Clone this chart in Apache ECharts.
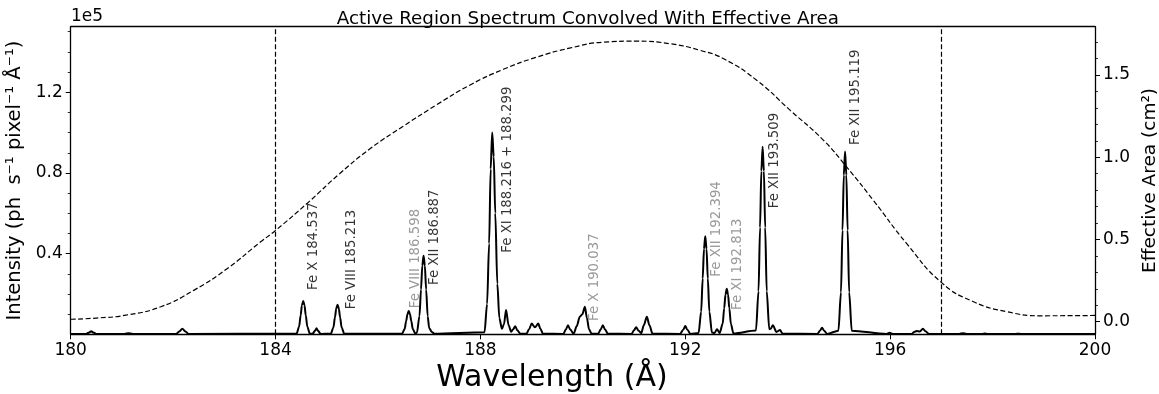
<!DOCTYPE html>
<html>
<head>
<meta charset="utf-8">
<script src="https://cdn.jsdelivr.net/npm/echarts@6/dist/echarts.min.js"></script>
<style>html,body{margin:0;background:#fff}#chart{width:1159px;height:394px}</style>
</head>
<body>
<div id="chart"></div>
<script>
// spectrum, grouped by line (wavelength in A, intensity in ph/s/pixel/A)
const specWave = [
  180.0, 180.3, 180.36, 180.4, 180.44, 180.5,
  181.05, 181.13, 181.21,
  182.06, 182.12, 182.18, 182.24, 182.3,
  184.41, 184.46, 184.49, 184.515, 184.54, 184.565, 184.59, 184.62, 184.67,
  184.72, 184.77, 184.8, 184.83, 184.88,
  185.08, 185.13, 185.16, 185.185, 185.21, 185.235, 185.26, 185.29, 185.34,
  186.47, 186.52, 186.55, 186.575, 186.6, 186.625, 186.65, 186.68, 186.73,
  186.76, 186.81, 186.84, 186.865, 186.89, 186.915, 186.94, 186.97, 187.0, 187.05, 187.1,
  188.08, 188.13, 188.17, 188.2, 188.23, 188.26, 188.29, 188.33, 188.37, 188.42,
  188.46, 188.5, 188.55, 188.6, 188.64, 188.68, 188.72, 188.78,
  188.9, 188.95, 189.0, 189.065, 189.13, 189.17, 189.22,
  189.62, 189.67, 189.71, 189.75, 189.82, 189.88, 189.94, 189.99, 190.04, 190.08, 190.12, 190.17,
  190.3, 190.35, 190.39, 190.43, 190.49,
  190.95, 191.0, 191.04, 191.09, 191.14, 191.19, 191.25, 191.3, 191.36,
  191.9, 191.96, 192.0, 192.04, 192.1,
  192.26, 192.31, 192.34, 192.365, 192.39, 192.415, 192.44, 192.47, 192.52,
  192.57, 192.62, 192.67,
  192.73, 192.76, 192.785, 192.81, 192.835, 192.86, 192.89, 192.94,
  193.38, 193.43, 193.46, 193.485, 193.51, 193.535, 193.56, 193.59, 193.64,
  193.67, 193.71, 193.78, 193.85, 193.9,
  194.58, 194.63, 194.67, 194.71, 194.77,
  194.99, 195.04, 195.07, 195.095, 195.12, 195.145, 195.17, 195.2, 195.25,
  195.93, 195.99, 196.05,
  196.42, 196.47, 196.52, 196.58, 196.64, 196.69, 196.76,
  197.35, 197.42, 197.49,
  197.8, 197.85, 197.9,
  198.45, 198.5, 198.55,
  200.0
];
const specFlux = [
  200, 200, 900, 1500, 900, 200,
  200, 500, 200,
  200, 1400, 2800, 1400, 200,
  300, 3800, 9400, 14400, 16500, 14400, 9400, 3800, 300,
  200, 1700, 3000, 1700, 200,
  300, 3400, 8400, 12800, 14700, 12800, 8400, 3400, 300,
  250, 2600, 6600, 10000, 11500, 10000, 6600, 2600, 300,
  800, 9000, 22200, 34000, 39000, 34000, 22200, 9000, 3000, 1200, 300,
  1000, 15000, 45000, 82000, 100000, 88000, 60000, 25000, 8000, 2700,
  5000, 12000, 4500, 1300, 2500, 4000, 2000, 300,
  300, 2500, 5300, 3500, 5300, 2800, 300,
  200, 2500, 4500, 2500, 300, 4000, 8700, 10000, 13700, 8000, 2500, 300,
  300, 2500, 4500, 2500, 300,
  200, 2000, 3500, 1800, 600, 4500, 8700, 4500, 300,
  200, 2300, 4100, 2300, 200,
  700, 11200, 27700, 42300, 48600, 42300, 27700, 11200, 900,
  600, 2500, 600,
  5200, 12900, 19700, 22600, 19700, 12900, 5200, 400,
  1900, 21400, 53000, 80900, 93000, 80900, 53000, 21400, 2500,
  2800, 4500, 1200, 2100, 300,
  200, 1800, 3300, 1800, 200,
  1800, 20800, 51600, 78800, 90600, 78800, 51600, 20800, 1800,
  200, 800, 200,
  200, 1200, 1600, 1400, 2800, 1500, 200,
  200, 500, 200,
  200, 350, 200,
  200, 300, 200,
  200
];

// effective area curve (cm^2), right axis
const areaWave = [180.0, 180.5, 181.1, 181.76, 182.41, 183.06, 183.71, 184.0, 184.65, 185.25, 185.85, 186.5, 187.15,
  187.8, 188.45, 189.1, 189.76, 190.41, 191.06, 191.71, 192.29, 192.75, 193.4, 194.05, 194.7, 195.15,
  195.67, 196.32, 197.0, 197.63, 198.28, 198.93, 200.0];
const areaVal = [0.015, 0.022, 0.041, 0.091, 0.192, 0.324, 0.486, 0.555, 0.729, 0.9, 1.053, 1.19, 1.32,
  1.44, 1.535, 1.609, 1.665, 1.70, 1.706, 1.69, 1.65, 1.599, 1.467, 1.285, 1.103, 0.941,
  0.739, 0.476, 0.239, 0.121, 0.061, 0.036, 0.038];

// line labels: text, anchor wavelength, anchor intensity (bottom of text), colour
const lineText = ['Fe X 184.537', 'Fe VIII 185.213', 'Fe VIII 186.598', 'Fe XII 186.887', 'Fe XI 188.216 + 188.299',
  'Fe X 190.037', 'Fe XII 192.394', 'Fe XI 192.813', 'Fe XII 193.509', 'Fe XII 195.119'];
const lineX = [184.746, 185.475, 186.725, 187.096, 188.535, 190.227, 192.604, 193.027, 193.742, 195.332];
const lineY = [21970, 12400, 12900, 24450, 40460, 6600, 28560, 12050, 62480, 93860];
const lineColor = ['#000', '#000', '#808080', '#000', '#000', '#808080', '#808080', '#808080', '#000', '#000'];

const cutoffs = [184, 197];
const leftMajor = [0.4e5, 0.8e5, 1.2e5];
const leftMinor = [0.1e5, 0.2e5, 0.3e5, 0.5e5, 0.6e5, 0.7e5, 0.9e5, 1.0e5, 1.1e5, 1.3e5, 1.4e5, 1.5e5];
const rightMajor = [0, 0.5, 1.0, 1.5];
const rightMinor = [0.1, 0.2, 0.3, 0.4, 0.6, 0.7, 0.8, 0.9, 1.1, 1.2, 1.3, 1.4, 1.6, 1.7];

const FONT = 'DejaVu Sans';
const LEFT_MAX = 1.525e5;
const R_MIN = -0.0766, R_MAX = 1.794;

const chart = echarts.init(document.getElementById('chart'), null, { renderer: 'canvas' });

const tickAxis = (extra) => Object.assign({
  type: 'value',
  axisLine: { show: false, onZero: false },
  splitLine: { show: false },
  axisLabel: { show: false },
  axisTick: { show: false }
}, extra);

const option = {
  animation: false,
  backgroundColor: '#fff',
  textStyle: { fontFamily: FONT, color: '#000' },
  title: {
    text: 'Active Region Spectrum Convolved With Effective Area',
    left: 582.9, top: 5, textAlign: 'center',
    textStyle: { fontFamily: FONT, fontSize: 18.3, fontWeight: 'normal', color: '#000' }
  },
  graphic: [{
    type: 'text', left: 71, top: 8,
    style: { text: '1e5', fontFamily: FONT, fontSize: 17, fill: '#000' }
  }, {
    // x label sits a little left of the axis centre in the reference
    type: 'text', x: 552, y: 378,
    style: { text: 'Wavelength (Å)', fontFamily: FONT, fontSize: 30, fill: '#000',
      align: 'center', verticalAlign: 'middle' }
  }],
  grid: { left: 70.7, right: 64, top: 26.7, bottom: 59.7, containLabel: false, outerBoundsMode: 'none' },
  xAxis: [{
    type: 'value', min: 180, max: 200, interval: 4, position: 'bottom',
    axisLine: { onZero: false, lineStyle: { color: '#000', width: 1.3 } },
    axisTick: { inside: false, length: 5, lineStyle: { color: '#000', width: 1 } },
    axisLabel: { fontFamily: FONT, fontSize: 17, color: '#000', margin: 8 },
    splitLine: { show: false }
  }, {
    type: 'value', min: 180, max: 200, position: 'top',
    axisLine: { show: true, onZero: false, lineStyle: { color: '#000', width: 1.3 } },
    axisTick: { show: false }, axisLabel: { show: false }, splitLine: { show: false }
  }],
  yAxis: [{
    type: 'value', min: 0, max: LEFT_MAX, position: 'left',
    name: 'Intensity (ph  s⁻¹ pixel⁻¹ Å⁻¹)', nameLocation: 'middle', nameRotate: 90, nameGap: 39,
    nameTextStyle: { fontFamily: FONT, fontSize: 19.5, color: '#000' },
    axisLine: { show: true, onZero: false, lineStyle: { color: '#000', width: 1.3 } },
    axisTick: { show: true, length: 5, customValues: leftMajor, lineStyle: { color: '#000', width: 1 } },
    axisLabel: { fontFamily: FONT, fontSize: 17, color: '#000', margin: 8, customValues: leftMajor,
      formatter: v => (v / 1e5).toFixed(1) },
    splitLine: { show: false }
  }, {
    type: 'value', min: R_MIN, max: R_MAX, position: 'right',
    name: 'Effective Area (cm²)', nameLocation: 'middle', nameRotate: 90, nameGap: 36,
    nameTextStyle: { fontFamily: FONT, fontSize: 18.5, color: '#000' },
    axisLine: { show: true, onZero: false, lineStyle: { color: '#000', width: 1.3 } },
    axisTick: { show: true, length: 5, customValues: rightMajor, lineStyle: { color: '#000', width: 1 } },
    axisLabel: { fontFamily: FONT, fontSize: 17, color: '#000', margin: 8, customValues: rightMajor,
      formatter: v => v.toFixed(1) },
    splitLine: { show: false }
  },
  tickAxis({ min: 0, max: LEFT_MAX, position: 'left',
    axisTick: { show: true, length: 3, customValues: leftMinor, lineStyle: { color: '#000', width: 0.8 } } }),
  tickAxis({ min: R_MIN, max: R_MAX, position: 'right',
    axisTick: { show: true, length: 3, customValues: rightMinor, lineStyle: { color: '#000', width: 0.8 } } })
  ],
  series: [{
    name: 'spectrum', type: 'line', xAxisIndex: 0, yAxisIndex: 0,
    data: specWave.map((w, i) => [w, specFlux[i]]),
    showSymbol: false, symbol: 'none',
    smooth: 0.3, smoothMonotone: 'x',
    lineStyle: { color: '#000', width: 2 },
    z: 3,
    markLine: {
      silent: true, symbol: 'none', label: { show: false },
      lineStyle: { color: '#000', width: 1.2, type: [5, 2.5] },
      data: cutoffs.map(c => ({ xAxis: c }))
    }
  }, {
    name: 'area', type: 'line', xAxisIndex: 0, yAxisIndex: 1,
    data: areaWave.map((w, i) => [w, areaVal[i]]),
    showSymbol: false, symbol: 'none', smooth: 0.5,
    lineStyle: { color: '#000', width: 1.2, type: [5, 2.5] },
    z: 2
  }, {
    name: 'labels', type: 'scatter', xAxisIndex: 0, yAxisIndex: 0,
    symbolSize: 0, silent: true,
    data: lineText.map((t, i) => ({
      value: [lineX[i], lineY[i]], name: t,
      label: { color: lineColor[i] }
    })),
    label: {
      show: true, position: 'inside', rotate: 90, align: 'left', verticalAlign: 'middle',
      fontFamily: FONT, fontSize: 13.3, formatter: p => p.name
    },
    z: 4
  }]
};

chart.setOption(option);
</script>
</body>
</html>
